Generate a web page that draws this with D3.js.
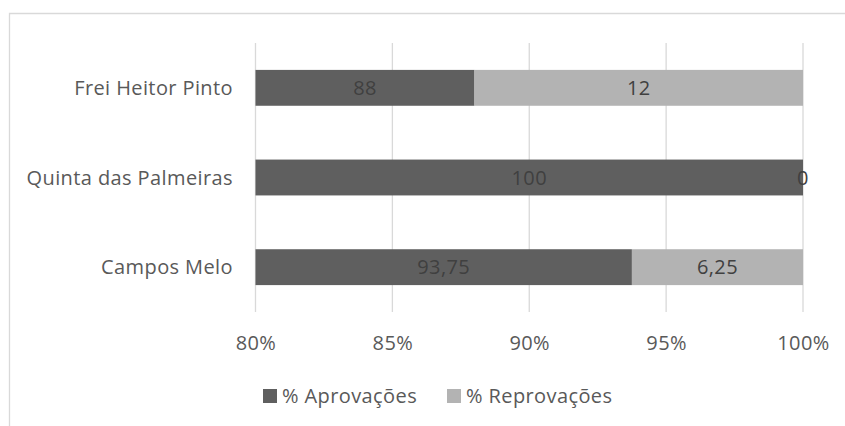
<!DOCTYPE html>
<html><head><meta charset="utf-8">
<script src="https://cdn.jsdelivr.net/npm/d3@7"></script>
<style>body{margin:0;background:#fff}svg{display:block}text{font-family:"Open Sans",sans-serif;letter-spacing:0.4px}</style>
</head><body><svg id="c" width="845" height="426"></svg>
<script>
const categories = ["Frei Heitor Pinto", "Quinta das Palmeiras", "Campos Melo"];
const aprovacoes = [88, 100, 93.75];
const reprovacoes = [12, 0, 6.25];
const seriesNames = ["% Aprovações", "% Reprovações"];
const tickValues = [80, 85, 90, 95, 100];
const colors = ["#5f5f5f", "#b3b3b3"];

const svg = d3.select("#c");
const fmt = v => String(v).replace(".", ",");
const fs = 20;

// outer border
svg.append("path").attr("d","M9.5,426V13.5H845").attr("fill","none").attr("stroke","#d9d9d9").attr("stroke-width",1.3);

const x = d3.scaleLinear().domain([80,100]).range([255.5,803]);
const y = d3.scaleBand().domain(categories).range([43,312]).paddingInner(0.6).paddingOuter(0.3);

// gridlines
svg.append("g").selectAll("line").data(tickValues).join("line")
  .attr("x1",d=>x(d)).attr("x2",d=>x(d)).attr("y1",43).attr("y2",312)
  .attr("stroke","#d9d9d9").attr("stroke-width",1.3);

const rows = categories.map((c,i)=>({c, a:aprovacoes[i], r:reprovacoes[i]}));
const stack = d3.stack().keys(["a","r"])(rows);

const clipX = v => Math.max(x.domain()[0], v);
stack.forEach((s, si) => {
  svg.append("g").selectAll("rect").data(s).join("rect")
    .attr("x", d=>x(clipX(d[0])))
    .attr("width", d=>x(clipX(d[1]))-x(clipX(d[0])))
    .attr("y", d=>y(d.data.c))
    .attr("height", y.bandwidth())
    .attr("fill", colors[si]);
  svg.append("g").selectAll("text").data(s).join("text")
    .attr("x", d=>(x(clipX(d[0]))+x(clipX(d[1])))/2)
    .attr("y", d=>y(d.data.c)+y.bandwidth()/2)
    .attr("dy","0.35em").attr("text-anchor","middle")
    .attr("font-size",fs).attr("fill","#404040")
    .text(d=>fmt(d.data[si===0?"a":"r"]));
});

// category labels
svg.append("g").selectAll("text").data(categories).join("text")
  .attr("x",233).attr("y",d=>y(d)+y.bandwidth()/2).attr("dy","0.35em")
  .attr("text-anchor","end").attr("font-size",fs).attr("fill","#595959").text(d=>d);

// x axis labels
const ax = svg.append("g").attr("transform","translate(0,312)")
  .call(d3.axisBottom(x).tickValues(tickValues).tickSize(0).tickPadding(24).tickFormat(d=>d+"%"));
ax.select(".domain").remove();
ax.selectAll("text").attr("font-size",fs).attr("fill","#595959").attr("font-family","'Open Sans', sans-serif");

// legend
const leg = svg.append("g");
const lx = [263, 447];
seriesNames.forEach((n,i)=>{
  leg.append("rect").attr("x",lx[i]).attr("y",389).attr("width",14).attr("height",14).attr("fill",colors[i]);
  leg.append("text").attr("x",lx[i]+19).attr("y",396).attr("dy","0.35em").attr("font-size",fs).attr("fill","#595959").text(n);
});
</script></body></html>
